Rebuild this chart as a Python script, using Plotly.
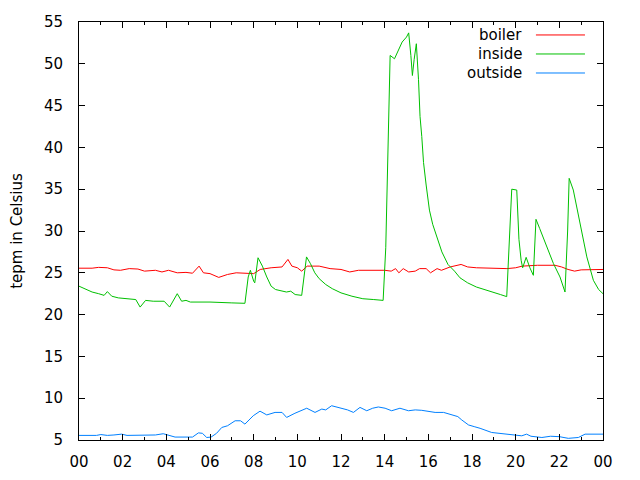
import plotly.graph_objects as go

# hours of the day and temperatures
boiler_h = [0.0, 0.6, 0.9, 1.3, 1.6, 1.9, 2.3, 2.7, 3.0, 3.5, 3.8, 4.1, 4.5, 4.9, 5.2, 5.5, 5.7, 6.0,
            6.4, 6.8, 7.2, 7.6, 8.0, 8.3, 8.8, 9.3, 9.57, 9.75, 10.0, 10.2, 10.45, 11.0, 11.5, 12.0,
            12.4, 12.8, 13.2, 14.0, 14.3, 14.5, 14.65, 14.85, 15.1, 15.4, 15.6, 15.9, 16.1, 16.4,
            16.6, 17.0, 17.5, 17.8, 18.2, 19.0, 19.6, 20.0, 20.3, 21.0, 21.8, 22.1, 22.4, 22.7,
            23.0, 24.0]
boiler_t = [25.55, 25.55, 25.65, 25.6, 25.35, 25.3, 25.5, 25.45, 25.2, 25.3, 25.1, 25.3, 25.0, 25.05,
            24.95, 25.8, 25.0, 24.9, 24.45, 24.8, 25.0, 24.95, 24.9, 25.4, 25.6, 25.7, 26.6, 25.8,
            25.6, 25.2, 25.8, 25.8, 25.5, 25.4, 25.1, 25.3, 25.3, 25.3, 25.2, 25.5, 25.0, 25.5, 25.1,
            25.2, 25.5, 25.5, 25.0, 25.5, 25.3, 25.7, 26.0, 25.7, 25.6, 25.5, 25.5, 25.6, 25.8, 25.9,
            25.9, 25.7, 25.4, 25.2, 25.35, 25.4]

inside_h = [0.0, 0.3, 0.6, 0.9, 1.15, 1.3, 1.5, 1.8, 2.2, 2.6, 2.8, 3.05, 3.4, 3.9, 4.15, 4.5, 4.7,
            4.9, 5.1, 6.0, 7.0, 7.6, 7.75, 7.85, 8.0, 8.05, 8.2, 8.4, 8.6, 8.8, 9.0, 9.3, 9.5, 9.7,
            9.9, 10.2, 10.35, 10.42, 10.6, 10.8, 11.0, 11.3, 11.6, 12.0, 12.5, 13.0, 13.5, 13.93,
            14.05, 14.15, 14.25, 14.45, 14.6, 14.8, 15.0, 15.1, 15.2, 15.27, 15.35, 15.45, 15.55,
            15.62, 15.7, 15.78, 15.9, 16.05, 16.2, 16.4, 16.62, 16.9, 17.2, 17.45, 17.8, 18.2, 18.6,
            19.0, 19.3, 19.59, 19.72, 19.82, 20.05, 20.15, 20.25, 20.32, 20.48, 20.65, 20.81, 20.93,
            21.1, 21.25, 21.42, 21.6, 21.73, 22.03, 22.26, 22.38, 22.45, 22.64, 22.8, 22.95, 23.1,
            23.26, 23.56, 23.8, 24.0]
inside_t = [23.4, 23.0, 22.7, 22.5, 22.3, 22.75, 22.2, 22.0, 21.9, 21.8, 20.9, 21.7, 21.6, 21.6, 20.9,
            22.5, 21.6, 21.7, 21.5, 21.5, 21.4, 21.35, 24.5, 25.3, 24.0, 23.8, 26.8, 25.8, 24.5, 23.4,
            23.0, 22.8, 22.7, 22.8, 22.4, 22.3, 26.0, 26.9, 26.1, 25.0, 24.3, 23.6, 23.1, 22.6, 22.2,
            21.9, 21.8, 21.7, 28.0, 41.0, 51.0, 50.6, 51.5, 52.6, 53.2, 53.7, 51.0, 48.6, 50.5, 52.4,
            48.1, 43.7, 41.3, 38.2, 35.5, 32.5, 30.8, 29.3, 27.5, 26.0, 25.2, 24.4, 23.8, 23.3, 23.0,
            22.7, 22.4, 22.15, 30.0, 35.0, 34.9, 29.0, 26.5, 25.6, 26.85, 25.6, 24.7, 31.4, 30.3,
            29.3, 28.1, 26.9, 26.1, 24.5, 22.7, 30.0, 36.3, 34.9, 32.8, 30.9, 28.7, 26.9, 24.1, 23.0,
            22.5]

outside_h = [0.0, 0.8, 1.0, 1.3, 1.6, 1.95, 2.2, 3.2, 3.5, 3.86, 4.2, 4.4, 5.2, 5.47, 5.65, 5.85,
             6.05, 6.3, 6.54, 6.8, 7.15, 7.4, 7.6, 7.98, 8.29, 8.6, 8.98, 9.3, 9.51, 9.89, 10.43,
             10.81, 11.12, 11.3, 11.57, 12.03, 12.3, 12.57, 12.87, 13.18, 13.45, 13.71, 14.02, 14.32,
             14.7, 15.09, 15.4, 15.7, 16.31, 16.7, 17.07, 17.35, 17.53, 17.84, 18.1, 18.37, 18.9,
             19.67, 20.28, 20.5, 20.7, 21.2, 21.6, 22.0, 22.41, 22.87, 23.18, 24.0]
outside_t = [5.55, 5.55, 5.65, 5.55, 5.6, 5.7, 5.55, 5.55, 5.6, 5.75, 5.5, 5.35, 5.35, 5.85, 5.8, 5.3,
             5.35, 5.8, 6.5, 6.7, 7.3, 7.3, 6.9, 7.9, 8.45, 8.0, 8.3, 8.3, 7.7, 8.2, 8.8, 8.3, 8.7, 8.6,
             9.1, 8.8, 8.6, 8.3, 8.9, 8.5, 8.8, 8.95, 8.8, 8.5, 8.8, 8.5, 8.6, 8.55, 8.3, 8.3, 8.0, 7.8,
             7.4, 6.8, 6.6, 6.4, 5.9, 5.7, 5.5, 5.7, 5.45, 5.3, 5.45, 5.4, 5.2, 5.3, 5.7, 5.7]

x_ticks = [0, 2, 4, 6, 8, 10, 12, 14, 16, 18, 20, 22, 24]
x_labels = ['00', '02', '04', '06', '08', '10', '12', '14', '16', '18', '20', '22', '00']

series = [('boiler', boiler_h, boiler_t, '#ff0000'),
          ('inside', inside_h, inside_t, '#00c000'),
          ('outside', outside_h, outside_t, '#0080ff')]

FONT = dict(family='DejaVu Sans', size=15, color='#000000')

fig = go.Figure()
for name, h, t, color in series:
    fig.add_trace(go.Scatter(x=h, y=t, mode='lines', name=name,
                             line=dict(color=color, width=1), showlegend=False))

# gnuplot style key: text on the left, line sample on the right
for i, (name, h, t, color) in enumerate(series):
    y = 0.969 - i * 0.0455
    fig.add_annotation(x=0.849, y=y, xref='paper', yref='paper', text=name,
                       showarrow=False, xanchor='right', yanchor='middle', font=FONT)
    fig.add_shape(type='line', xref='paper', yref='paper', x0=0.872, x1=0.9656, y0=y, y1=y,
                  line=dict(color=color, width=1))

# page body has an 8px margin, so the figure is a bit smaller than the window
fig.update_layout(
    width=632, height=472,
    margin=dict(l=71, r=37, t=14, b=40),
    paper_bgcolor='white', plot_bgcolor='white',
    font=FONT,
)
fig.update_xaxes(range=[0, 24], tickvals=x_ticks, ticktext=x_labels, ticks='inside', ticklen=6,
                 tickcolor='black', showline=True, linecolor='black', linewidth=1, mirror='ticks',
                 showgrid=False, zeroline=False, ticklabelstandoff=8, automargin=False,
                 minor=dict(dtick=1, ticks='inside', ticklen=3, tickcolor='black', showgrid=False))
fig.update_yaxes(range=[5, 55], dtick=5, ticks='inside', ticklen=6, tickcolor='black',
                 showline=True, linecolor='black', linewidth=1, mirror='ticks', showgrid=False,
                 zeroline=False, ticklabelstandoff=12, automargin=False,
                 title=dict(text='tepm in Celsius', standoff=23, font=FONT))

fig.write_html("out.html")
